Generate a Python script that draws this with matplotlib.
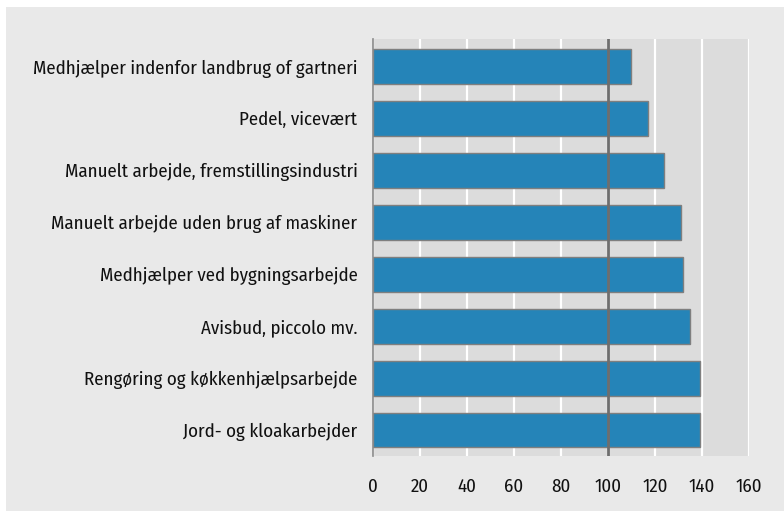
import matplotlib
matplotlib.use("Agg")
import matplotlib.pyplot as plt
from matplotlib.patches import Rectangle

categories = [
    "Medhjælper indenfor landbrug of gartneri",
    "Pedel, vicevært",
    "Manuelt arbejde, fremstillingsindustri",
    "Manuelt arbejde uden brug af maskiner",
    "Medhjælper ved bygningsarbejde",
    "Avisbud, piccolo mv.",
    "Rengøring og køkkenhjælpsarbejde",
    "Jord- og kloakarbejder",
]
values = [110, 117, 124, 131, 132, 135, 139, 139]
xticks = [0, 20, 40, 60, 80, 100, 120, 140, 160]
reference = 100

plt.rcParams['font.family'] = ['Fira Sans Condensed', 'PT Sans Narrow', 'DejaVu Sans']

fig = plt.figure(figsize=(7.84, 5.11), dpi=100, facecolor='white')
fig.patches.append(Rectangle((6/784, 0), 1, 1 - 7/511, transform=fig.transFigure,
                             facecolor='#e9e9e9', edgecolor='none', zorder=-10))

ax = fig.add_axes([372.7/784, 1 - 456/511, (749 - 372.7)/784, (456 - 39)/511])
ax.set_facecolor('#dcdcdc')

ypos = list(range(len(categories)))
ax.barh(ypos, values, height=0.67, color='#2584b8', edgecolor='#7f7f7f',
        linewidth=1.0, zorder=3)
ax.axvline(reference, color='#6e6e6e', linewidth=2.0, zorder=4)

ax.set_xlim(0, 160)
ax.set_ylim(len(categories) - 0.5, -0.53)
ax.set_xticks(xticks)
ax.set_xticklabels([str(t) for t in xticks])
ax.set_yticks(ypos)
ax.set_yticklabels(categories)
ax.grid(axis='x', color='white', linewidth=1.6, zorder=1)
ax.set_axisbelow(True)

for s in ['top', 'right', 'bottom']:
    ax.spines[s].set_visible(False)
ax.spines['left'].set_color('#8a8a8a')
ax.spines['left'].set_linewidth(1.2)
ax.spines['left'].set_zorder(5)

ax.tick_params(axis='both', length=0, labelsize=13.6, colors='#111111')
ax.tick_params(axis='x', pad=16)
ax.tick_params(axis='y', pad=11)

fig.savefig('out.png', dpi=100, facecolor='white')
